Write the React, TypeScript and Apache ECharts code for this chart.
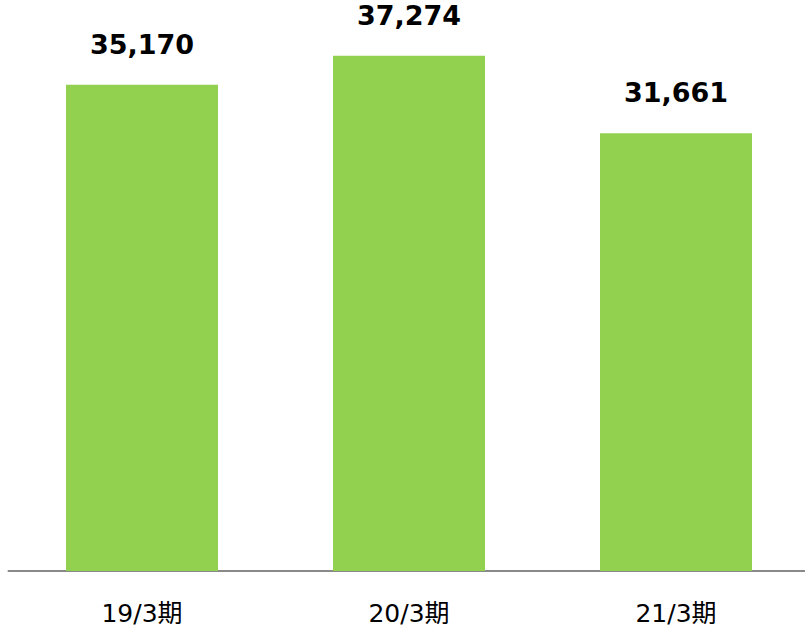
import React, { useEffect, useRef } from "react";
import * as echarts from "echarts";

const categories = ["19/3期", "20/3期", "21/3期"];
const values = [35170, 37274, 31661];

export default function App() {
  const ref = useRef<HTMLDivElement>(null);
  useEffect(() => {
    const chart = echarts.init(ref.current!, null, { renderer: "svg" });
    chart.setOption({
      animation: false,
      grid: { left: 8.5, right: 0.5, top: 18, bottom: 57, containLabel: false },
      xAxis: {
        type: "category",
        data: categories,
        axisLine: { show: true, lineStyle: { color: "#898989", width: 2 } },
        axisTick: { show: false },
        axisLabel: {
          color: "#000",
          fontSize: 25,
          lineHeight: 25,
          fontFamily: "DejaVu Sans, Noto Sans CJK JP",
          margin: 30,
        },
      },
      yAxis: {
        type: "value",
        min: 0,
        max: 40000,
        show: false,
        splitLine: { show: false },
      },
      series: [
        {
          type: "bar",
          data: values,
          barWidth: 152,
          itemStyle: { color: "#92D050" },
          label: {
            show: true,
            position: "top",
            distance: 27,
            color: "#000",
            fontSize: 27,
            fontWeight: "bold",
            fontFamily: "DejaVu Sans",
            formatter: (p: any) => p.value.toLocaleString("en-US"),
          },
        },
      ],
    });
    return () => chart.dispose();
  }, []);
  return (
    <div
      style={{
        position: "absolute",
        left: 0,
        top: 0,
        width: 805,
        height: 628,
        overflow: "hidden",
      }}
    >
      <div ref={ref} style={{ width: 810, height: 628 }} />
    </div>
  );
}
